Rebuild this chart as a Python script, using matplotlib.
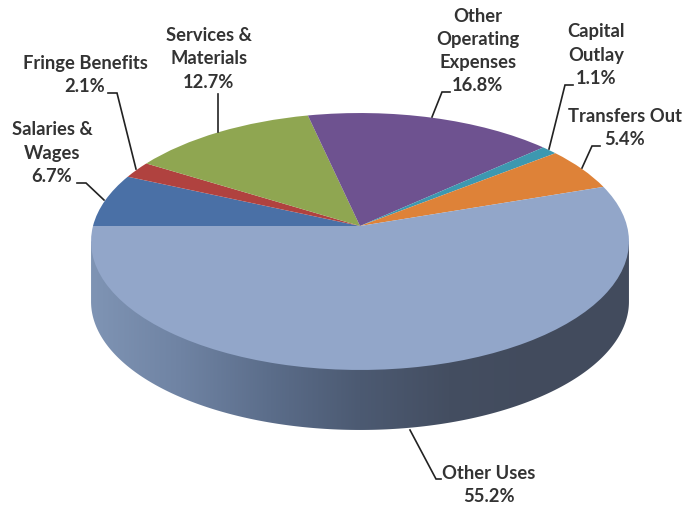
import numpy as np
import matplotlib
matplotlib.use("Agg")
import matplotlib.pyplot as plt
from matplotlib.transforms import Transform
from matplotlib.colors import LinearSegmentedColormap
from matplotlib.patches import Polygon

# Data
categories = ["Salaries &\nWages", "Fringe Benefits", "Services &\nMaterials",
              "Other\nOperating\nExpenses", "Capital\nOutlay", "Transfers Out", "Other Uses"]
shares = [6.7, 2.1, 12.7, 16.8, 1.1, 5.4, 55.2]
slice_colors = ["#4a70a6", "#b0423f", "#8fa651", "#6e5290", "#3d98b0", "#de8238", "#92a6c9"]

# Label placement (pixel space of the figure)
label_xy = [(52, 153), (85, 75), (209, 59), (478, 51), (596, 55), (625, 128), (489, 485)]
leaders = [
    [(77, 183), (86, 183), (104, 200)],
    [(108, 93), (117, 93), (136, 169)],
    [(218, 94), (218, 132)],
    [(450, 92), (442, 92), (432, 117)],
    [(573, 85), (565, 85), (549, 149)],
    [(600, 146), (592, 146), (582, 168)],
    [(410, 430), (436, 479), (441, 479)],
]

# Pie geometry (perspective)
CX, CY = 360, 226
A, C, D = 267, 126.6, 0.1206
DEPTH = 60
wall_stops = ["#7f94b4", "#6f83a3", "#5b6d8a", "#4c5a72", "#444e61", "#424b5d", "#434c5e"]


class Perspective(Transform):
    input_dims = output_dims = 2
    is_separable = False
    has_inverse = False

    def transform_non_affine(self, values):
        values = np.asarray(values, float)
        den = 1 + D * values[:, 1]
        return np.column_stack((CX + A * values[:, 0] / den, CY - C * values[:, 1] / den))


persp = Perspective()

fig = plt.figure(figsize=(6.91, 5.07), dpi=100, facecolor="white")
ax = fig.add_axes([0, 0, 1, 1])

# Side wall: lower half of the rim, pushed down by the depth
t = np.linspace(0, 2 * np.pi, 1441)
rim = persp.transform_non_affine(np.column_stack((np.cos(t), np.sin(t))))
mid_y = (rim[:, 1].min() + rim[:, 1].max()) / 2
low = rim[rim[:, 1] >= mid_y]
low = low[np.argsort(low[:, 0])]
wall_pts = np.vstack(([low[0, 0], mid_y], low + [0, DEPTH], [low[-1, 0], mid_y]))
wall_clip = Polygon(wall_pts, closed=True, transform=ax.transData, facecolor="none", edgecolor="none")
ax.add_patch(wall_clip)
grad = LinearSegmentedColormap.from_list("wall", wall_stops)
img = ax.imshow(np.linspace(0, 1, 256)[None, :], cmap=grad, aspect="auto",
                extent=(low[0, 0], low[-1, 0], mid_y + DEPTH + 140, mid_y - 10), zorder=1)
img.set_clip_path(wall_clip)

# Top face
wedges, _ = ax.pie(shares, colors=slice_colors, startangle=180, counterclock=False)
for w in wedges:
    w.set_transform(persp + ax.transData)
    w.set_linewidth(0)
    w.set_zorder(2)

ax.set_aspect("auto")
ax.set_xlim(0, 691)
ax.set_ylim(507, 0)
ax.axis("off")

for name, val, (x, y), pts in zip(categories, shares, label_xy, leaders):
    ax.text(x, y, f"{name}\n{val:.1f}%", ha="center", va="center", multialignment="center",
            family="Lato", weight="bold", fontsize=13.2, color="#333333", linespacing=1.44, zorder=4)
    xs, ys = zip(*pts)
    ax.plot(xs, ys, color="#222222", lw=1.2, solid_joinstyle="miter", zorder=3)

fig.savefig("out.png", dpi=100)
